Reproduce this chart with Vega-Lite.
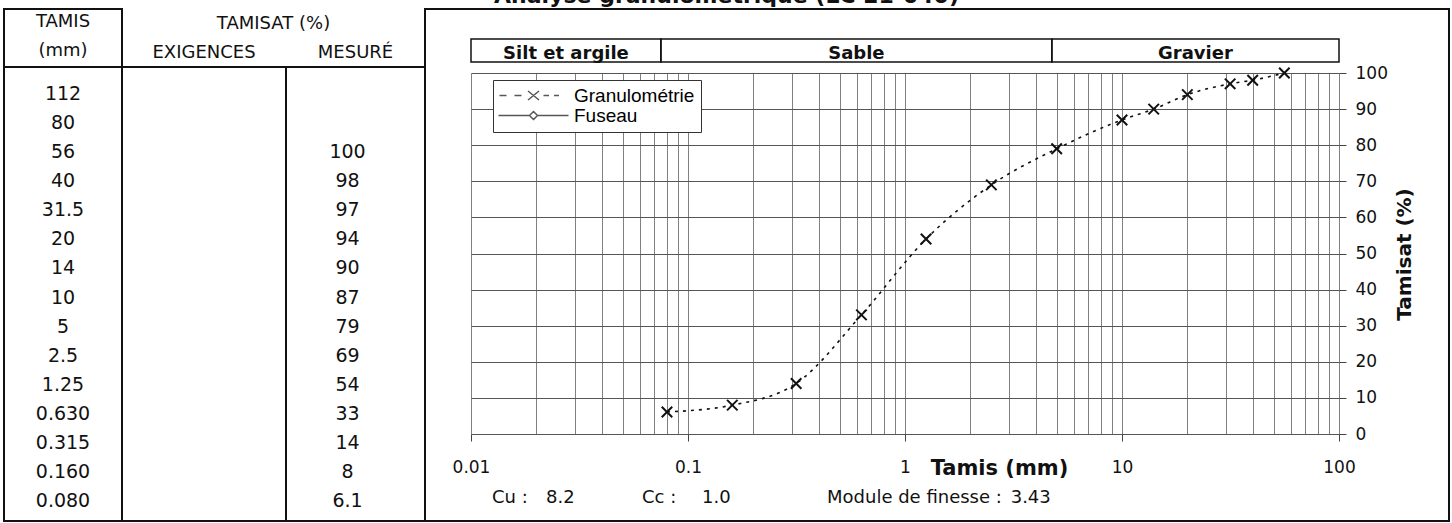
{
  "$schema": "https://vega.github.io/schema/vega-lite/v6.json",
  "padding": {"left": 3, "top": 0, "right": 0, "bottom": 0},
  "background": "white",
  "config": {
    "font": "DejaVu Sans",
    "view": {"stroke": "#111", "strokeWidth": 2},
    "mark": {"color": "#111"},
    "text": {"font": "DejaVu Sans", "color": "#111"},
    "axis": {"labelFont": "DejaVu Sans", "titleFont": "DejaVu Sans", "labelColor": "#111", "titleColor": "#111", "minExtent": 0, "maxExtent": 0},
    "legend": {"labelFont": "Liberation Sans"}
  },
  "datasets": {
    "tamisat": [
      {"libelle": "112", "tamis": 112, "exigence": "", "passant": null},
      {"libelle": "80", "tamis": 80, "exigence": "", "passant": null},
      {"libelle": "56", "tamis": 56, "exigence": "", "passant": 100},
      {"libelle": "40", "tamis": 40, "exigence": "", "passant": 98},
      {"libelle": "31.5", "tamis": 31.5, "exigence": "", "passant": 97},
      {"libelle": "20", "tamis": 20, "exigence": "", "passant": 94},
      {"libelle": "14", "tamis": 14, "exigence": "", "passant": 90},
      {"libelle": "10", "tamis": 10, "exigence": "", "passant": 87},
      {"libelle": "5", "tamis": 5, "exigence": "", "passant": 79},
      {"libelle": "2.5", "tamis": 2.5, "exigence": "", "passant": 69},
      {"libelle": "1.25", "tamis": 1.25, "exigence": "", "passant": 54},
      {"libelle": "0.630", "tamis": 0.63, "exigence": "", "passant": 33},
      {"libelle": "0.315", "tamis": 0.315, "exigence": "", "passant": 14},
      {"libelle": "0.160", "tamis": 0.16, "exigence": "", "passant": 8},
      {"libelle": "0.080", "tamis": 0.08, "exigence": "", "passant": 6.1}
    ],
    "classes": [
      {"classe": "Silt et argile", "debut": 0.01, "fin": 0.075},
      {"classe": "Sable", "debut": 0.075, "fin": 4.75},
      {"classe": "Gravier", "debut": 4.75, "fin": 100}
    ],
    "indices": [
      {"nom": "Cu :", "valeur": "8.2"},
      {"nom": "Cc :", "valeur": "1.0"},
      {"nom": "Module de finesse :", "valeur": "3.43"}
    ]
  },
  "spacing": 0,
  "bounds": "flush",
  "vconcat": [
    {
      "width": 1445,
      "height": 9,
      "view": {"stroke": null},
      "data": {"values": [{"titre": "Analyse granulométrique (LC 21-040)"}]},
      "mark": {"type": "text", "clip": true, "fontSize": 22, "fontWeight": "bold", "baseline": "alphabetic", "align": "center", "dy": -1.5},
      "encoding": {"text": {"field": "titre", "type": "nominal"}}
    },
    {
      "spacing": 421,
      "bounds": "flush",
      "hconcat": [
        {
          "spacing": 118,
          "bounds": "flush",
          "hconcat": [
            {
              "spacing": 0,
              "bounds": "flush",
              "vconcat": [
                {
                  "width": 118,
                  "height": 58,
                  "data": {"values": [{"entete": "TAMIS"}, {"entete": "(mm)"}]},
                  "mark": {"type": "text", "fontSize": 18},
                  "encoding": {
                    "y": {"field": "entete", "type": "ordinal", "sort": null, "axis": null, "scale": {"type": "point", "range": [13, 42], "padding": 0}},
                    "text": {"field": "entete", "type": "nominal"}
                  }
                },
                {
                  "width": 118,
                  "height": 454,
                  "data": {"name": "tamisat"},
                  "mark": {"type": "text", "fontSize": 19},
                  "encoding": {
                    "y": {"field": "libelle", "type": "ordinal", "sort": null, "axis": null, "scale": {"type": "point", "range": [27, 434], "padding": 0}},
                    "text": {"field": "libelle", "type": "nominal"}
                  }
                }
              ]
            },
            {
              "spacing": 0,
              "bounds": "flush",
              "vconcat": [
                {
                  "width": 303,
                  "height": 29,
                  "data": {"values": [{"entete": "TAMISAT (%)"}]},
                  "mark": {"type": "text", "fontSize": 18},
                  "encoding": {"text": {"field": "entete", "type": "nominal"}}
                },
                {
                  "spacing": 164,
                  "bounds": "flush",
                  "hconcat": [
                    {
                      "spacing": 0,
                      "bounds": "flush",
                      "vconcat": [
                        {
                          "width": 164,
                          "height": 29,
                          "data": {"values": [{"entete": "EXIGENCES"}]},
                          "mark": {"type": "text", "fontSize": 18},
                          "encoding": {"text": {"field": "entete", "type": "nominal"}}
                        },
                        {
                          "width": 164,
                          "height": 454,
                          "data": {"name": "tamisat"},
                          "mark": {"type": "text", "fontSize": 19},
                          "encoding": {
                            "y": {"field": "libelle", "type": "ordinal", "sort": null, "axis": null, "scale": {"type": "point", "range": [27, 434], "padding": 0}},
                            "text": {"field": "exigence", "type": "nominal"}
                          }
                        }
                      ]
                    },
                    {
                      "spacing": 0,
                      "bounds": "flush",
                      "vconcat": [
                        {
                          "width": 139,
                          "height": 29,
                          "data": {"values": [{"entete": "MESURÉ"}]},
                          "mark": {"type": "text", "fontSize": 18},
                          "encoding": {"text": {"field": "entete", "type": "nominal"}}
                        },
                        {
                          "width": 139,
                          "height": 454,
                          "data": {"name": "tamisat"},
                          "mark": {"type": "text", "fontSize": 19, "dx": -8},
                          "encoding": {
                            "y": {"field": "libelle", "type": "ordinal", "sort": null, "axis": null, "scale": {"type": "point", "range": [27, 434], "padding": 0}},
                            "text": {"condition": {"test": "datum.passant == null", "value": ""}, "field": "passant", "type": "quantitative", "format": "~g"}
                          }
                        }
                      ]
                    }
                  ]
                }
              ]
            }
          ]
        },
        {
          "width": 1024,
          "height": 512,
          "resolve": {"axis": {"x": "independent", "y": "independent"}},
          "layer": [
            {
              "data": {"name": "tamisat"},
              "transform": [{"filter": "datum.passant != null"}],
              "mark": {"type": "line", "interpolate": "monotone", "stroke": "#111", "strokeWidth": 1.6, "strokeDash": [3, 5]},
              "encoding": {
                "x": {"field": "tamis", "type": "quantitative", "scale": {"type": "log", "domain": [0.01, 100], "range": [46, 914], "nice": false},
                  "axis": {"orient": "top", "grid": true, "labels": false, "ticks": false, "domain": false, "title": null, "gridColor": "#808080", "gridWidth": 1, "gridOpacity": 1,
                    "values": [0.01,0.02,0.03,0.04,0.05,0.06,0.07,0.08,0.09,0.1,0.2,0.3,0.4,0.5,0.6,0.7,0.8,0.9,1,2,3,4,5,6,7,8,9,10,20,30,40,50,60,70,80,90,100]}},
                "y": {"field": "passant", "type": "quantitative", "scale": {"domain": [0, 100], "range": [425, 64], "nice": false, "zero": false},
                  "axis": {"orient": "left", "grid": true, "labels": false, "ticks": false, "domain": false, "title": null, "gridColor": "#555", "gridWidth": 1.2, "gridOpacity": 1,
                    "values": [0,10,20,30,40,50,60,70,80,90,100]}}
              }
            },
            {
              "data": {"name": "tamisat"},
              "transform": [{"filter": "datum.passant != null"}],
              "mark": {"type": "point", "shape": "M-1,-1L1,1M-1,1L1,-1", "size": 110, "filled": false, "stroke": "#111", "strokeWidth": 2, "opacity": 1},
              "encoding": {
                "x": {"field": "tamis", "type": "quantitative", "scale": {"type": "log", "domain": [0.01, 100], "range": [46, 914], "nice": false},
                  "axis": {"orient": "bottom", "offset": -87, "grid": false, "domain": false, "values": [0.01, 0.1, 1, 10, 100], "format": "~g",
                    "tickSize": 7, "tickColor": "#444", "tickWidth": 1, "labelFontSize": 17, "labelPadding": 18, "labelFlush": false, "labelOverlap": false,
                    "title": "Tamis (mm)", "titleFontSize": 21, "titleFontWeight": "bold", "titleX": 574, "titleY": 34, "titleAlign": "center", "titleBaseline": "middle"}},
                "y": {"field": "passant", "type": "quantitative", "scale": {"domain": [0, 100], "range": [425, 64], "nice": false, "zero": false},
                  "axis": {"orient": "right", "offset": -110, "grid": false, "domain": false, "values": [0,10,20,30,40,50,60,70,80,90,100],
                    "tickSize": 7, "tickColor": "#444", "tickWidth": 1, "labelFontSize": 17, "labelPadding": 9, "labelFlush": false, "labelOverlap": false,
                    "title": "Tamisat (%)", "titleFontSize": 20, "titleFontWeight": "bold", "titleAngle": 270, "titleX": 65, "titleY": 245, "titleAlign": "center", "titleBaseline": "middle"}}
              }
            },
            {
              "data": {"values": []},
              "mark": {"type": "point", "filled": false, "stroke": "#111", "strokeWidth": 1.5, "size": 100},
              "encoding": {
                "shape": {"field": "serie", "type": "nominal",
                  "scale": {"domain": ["Granulométrie", "Fuseau"], "range": ["M-6.8,0L-5.4,0M-3.8,0L-2.4,0M-1.1,-0.9L1.1,0.9M-1.1,0.9L1.1,-0.9M2,0L3.1,0M4.1,0L5.1,0", "M-7,0L-0.8,0M0.8,0L7,0M-0.8,0L0,-0.8L0.8,0L0,0.8Z"]},
                  "legend": {"orient": "none", "legendX": 489, "legendY": 80, "title": null, "symbolSize": 100, "symbolOffset": 25, "labelOffset": 31,
                    "labelFont": "Liberation Sans", "labelFontSize": 19, "labelColor": "#000", "strokeColor": "#333", "fillColor": "white", "padding": 6, "rowPadding": 0,
                    "symbolStrokeColor": "#111", "symbolStrokeWidth": 1.5, "labelLimit": 300}}
              }
            },
            {
              "data": {"name": "classes"},
              "mark": {"type": "rect", "filled": false, "stroke": "#111", "strokeWidth": 1.5},
              "encoding": {
                "x": {"field": "debut", "type": "quantitative", "scale": {"type": "log", "domain": [0.01, 100], "range": [46, 914], "nice": false}, "axis": null},
                "x2": {"field": "fin"},
                "y": {"datum": 103.05, "type": "quantitative", "axis": null},
                "y2": {"datum": 109.4}
              }
            },
            {
              "data": {"name": "classes"},
              "transform": [{"filter": "datum.classe === 'Silt et argile'"}],
              "mark": {"type": "text", "fontSize": 18, "fontWeight": "bold", "baseline": "alphabetic", "align": "center"},
              "encoding": {
                "x": {"datum": 0.02739, "type": "quantitative", "axis": null},
                "y": {"datum": 103.74, "type": "quantitative", "axis": null},
                "text": {"field": "classe", "type": "nominal"}
              }
            },
            {
              "data": {"name": "classes"},
              "transform": [{"filter": "datum.classe === 'Sable'"}],
              "mark": {"type": "text", "fontSize": 18, "fontWeight": "bold", "baseline": "alphabetic", "align": "center"},
              "encoding": {
                "x": {"datum": 0.5969, "type": "quantitative", "axis": null},
                "y": {"datum": 103.74, "type": "quantitative", "axis": null},
                "text": {"field": "classe", "type": "nominal"}
              }
            },
            {
              "data": {"name": "classes"},
              "transform": [{"filter": "datum.classe === 'Gravier'"}],
              "mark": {"type": "text", "fontSize": 18, "fontWeight": "bold", "baseline": "alphabetic", "align": "center"},
              "encoding": {
                "x": {"datum": 21.79, "type": "quantitative", "axis": null},
                "y": {"datum": 103.74, "type": "quantitative", "axis": null},
                "text": {"field": "classe", "type": "nominal"}
              }
            },
            {
              "data": {"name": "indices"},
              "transform": [{"filter": "datum.nom === 'Cu :'"}],
              "layer": [
                {
                  "mark": {"type": "text", "fontSize": 18, "baseline": "middle", "align": "left"},
                  "encoding": {
                    "x": {"datum": 0.0125, "type": "quantitative", "axis": null},
                    "y": {"datum": -17.73, "type": "quantitative", "axis": null},
                    "text": {"field": "nom", "type": "nominal"}
                  }
                },
                {
                  "mark": {"type": "text", "fontSize": 18, "baseline": "middle", "align": "left"},
                  "encoding": {
                    "x": {"datum": 0.02216, "type": "quantitative", "axis": null},
                    "y": {"datum": -17.73, "type": "quantitative", "axis": null},
                    "text": {"field": "valeur", "type": "nominal"}
                  }
                }
              ]
            },
            {
              "data": {"name": "indices"},
              "transform": [{"filter": "datum.nom === 'Cc :'"}],
              "layer": [
                {
                  "mark": {"type": "text", "fontSize": 18, "baseline": "middle", "align": "left"},
                  "encoding": {
                    "x": {"datum": 0.06138, "type": "quantitative", "axis": null},
                    "y": {"datum": -17.73, "type": "quantitative", "axis": null},
                    "text": {"field": "nom", "type": "nominal"}
                  }
                },
                {
                  "mark": {"type": "text", "fontSize": 18, "baseline": "middle", "align": "left"},
                  "encoding": {
                    "x": {"datum": 0.116, "type": "quantitative", "axis": null},
                    "y": {"datum": -17.73, "type": "quantitative", "axis": null},
                    "text": {"field": "valeur", "type": "nominal"}
                  }
                }
              ]
            },
            {
              "data": {"name": "indices"},
              "transform": [{"filter": "datum.nom === 'Module de finesse :'"}],
              "layer": [
                {
                  "mark": {"type": "text", "fontSize": 18, "baseline": "middle", "align": "left"},
                  "encoding": {
                    "x": {"datum": 0.4371, "type": "quantitative", "axis": null},
                    "y": {"datum": -17.73, "type": "quantitative", "axis": null},
                    "text": {"field": "nom", "type": "nominal"}
                  }
                },
                {
                  "mark": {"type": "text", "fontSize": 18, "baseline": "middle", "align": "left"},
                  "encoding": {
                    "x": {"datum": 3.069, "type": "quantitative", "axis": null},
                    "y": {"datum": -17.73, "type": "quantitative", "axis": null},
                    "text": {"field": "valeur", "type": "nominal"}
                  }
                }
              ]
            }
          ]
        }
      ]
    }
  ]
}
